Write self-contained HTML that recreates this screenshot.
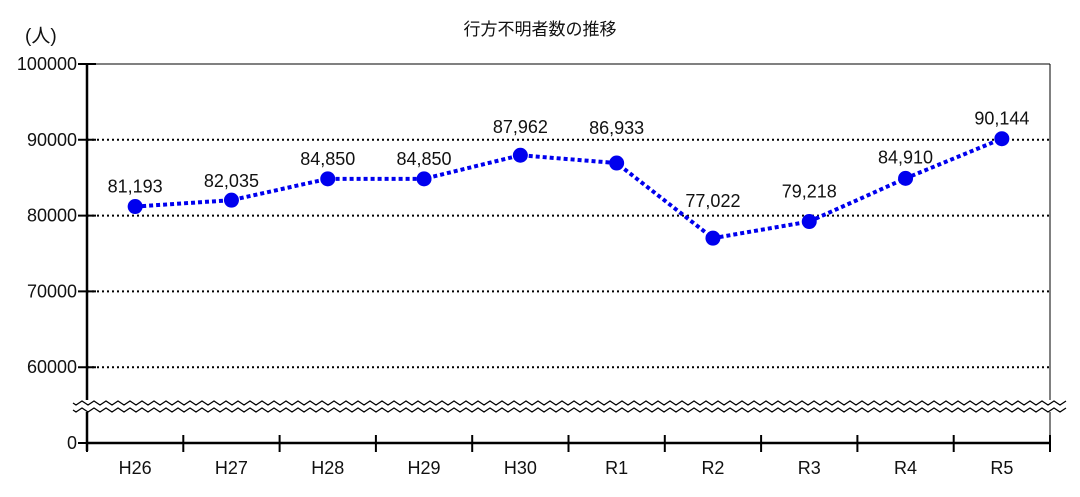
<!DOCTYPE html>
<html><head><meta charset="utf-8"><style>
body{margin:0;background:#fff;}
svg text{font-family:"Liberation Sans","Noto Sans CJK JP",sans-serif;fill:#111;}
</style></head><body>
<svg id="c" width="1080" height="492">
<text x="540" y="35" font-size="17" text-anchor="middle">行方不明者数の推移</text>
<text x="25" y="42" font-size="19">(人)</text>
<g id="g"></g>
</svg>
<script>
const categories=["H26","H27","H28","H29","H30","R1","R2","R3","R4","R5"];
const values=[81193,82035,84850,84850,87962,86933,77022,79218,84910,90144];
const valueLabels=["81,193","82,035","84,850","84,850","87,962","86,933","77,022","79,218","84,910","90,144"];
const yTicks=[60000,70000,80000,90000,100000];
const labelDy=[-14,-13,-14,-14,-22,-29,-31,-24,-15,-14];
const NS="http://www.w3.org/2000/svg",g=document.getElementById('g');
const L=87,R=1050,T=64,Y0=443;
function y(v){return T+(100000-v)/10000*75.8;}
function x(i){return L+(R-L)/categories.length*(i+0.5);}
function mk(t,a,p){const e=document.createElementNS(NS,t);for(const k in a)e.setAttribute(k,a[k]);(p||g).appendChild(e);return e;}
yTicks.forEach(v=>{
 const l=mk('line',{x1:L,x2:R,y1:y(v),y2:y(v),stroke:'#000','stroke-width':v==100000?1:2,'stroke-dasharray':v==100000?'':'2,3'});
 
 
 const tk=mk('line',{x1:78,x2:96,y1:y(v),y2:y(v),stroke:'#000','stroke-width':2});
 
 
 const t=mk('text',{x:77,y:y(v)+6,'font-size':18,'text-anchor':'end'});t.textContent=v;
 
 
});
const z0=mk('text',{x:77,y:Y0+6,'font-size':18,'text-anchor':'end'});z0.textContent='0';


mk('line',{x1:78,x2:96,y1:Y0,y2:Y0,stroke:'#000','stroke-width':2});
mk('line',{x1:R,x2:R,y1:T,y2:Y0,stroke:'#000','stroke-width':1});
const ax=mk('line',{x1:L,x2:L,y1:T,y2:Y0+8,stroke:'#000','stroke-width':2.5});


const xa=mk('line',{x1:L,x2:R,y1:Y0,y2:Y0,stroke:'#000','stroke-width':2.5});


mk('rect',{x:70,y:400,width:1000,height:12,fill:'#fff'});
[403,410].forEach(by=>{let d='M73 '+by;for(let px=73;px<=1066;px+=3){d+=' L'+px+' '+(by+2*Math.sin((px-73)/12*2*Math.PI)).toFixed(1);}
 const w=mk('path',{d:d,fill:'none',stroke:'#000','stroke-width':1.3});
 
 });
for(let i=0;i<=categories.length;i++){const xx=L+(R-L)/categories.length*i;mk('line',{x1:xx,x2:xx,y1:Y0-8,y2:Y0+9,stroke:'#000','stroke-width':2});}
categories.forEach((c,i)=>{const t=mk('text',{x:x(i),y:474,'font-size':18,'text-anchor':'middle'});t.textContent=c;
 
 });
const ln=mk('polyline',{points:values.map((v,i)=>x(i)+','+y(v)).join(' '),fill:'none',stroke:'#0000ee','stroke-width':4,'stroke-dasharray':'4,3'});


values.forEach((v,i)=>{
 const c=mk('circle',{cx:x(i),cy:y(v),r:7.5,fill:'#0000ee'});
 
 
 const t=mk('text',{x:x(i),y:y(v)+labelDy[i],'font-size':18,'text-anchor':'middle'});t.textContent=valueLabels[i];
 
 
});
</script>
</body></html>
